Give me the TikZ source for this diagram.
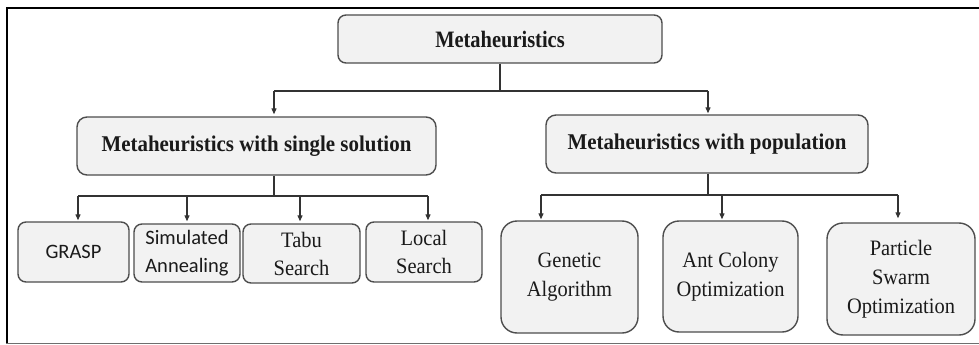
\documentclass[tikz,border=0pt]{standalone}
\usepackage{fontspec}
\usetikzlibrary{arrows.meta}
\setmainfont{Liberation Serif}
\newfontfamily\topf[FakeStretch=0.87]{Liberation Serif}
\newfontfamily\serf[FakeStretch=0.93]{Liberation Serif}
\newfontfamily\sanf{Carlito}
\definecolor{boxfill}{HTML}{F2F2F2}
\definecolor{boxline}{HTML}{4D4D4D}
\definecolor{conn}{HTML}{333333}
\definecolor{txt}{HTML}{1A1A1A}
\definecolor{framegray}{HTML}{6E6E6E}
\tikzset{
  basebox/.style={draw=boxline, fill=boxfill, line width=1.4pt, inner sep=0pt, align=center, text=txt},
  topbox/.style={basebox, rounded corners=8pt, font=\topf\bfseries\fontsize{23.5}{28}\selectfont},
  midbox/.style={basebox, rounded corners=10pt, font=\serf\bfseries\fontsize{22.5}{28}\selectfont},
  leafsans/.style={basebox, rounded corners=8pt, font=\sanf\fontsize{20.5}{28}\selectfont},
  leafserif/.style={basebox, rounded corners=8pt, font=\serf\fontsize{22}{28}\selectfont},
  popbox/.style={basebox, rounded corners=16pt, font=\serf\fontsize{22}{29}\selectfont},
  link/.style={draw=conn, line width=1.2pt},
  arrowlink/.style={link, -{Triangle[length=6pt,width=5pt]}}
}
\begin{document}
\begin{tikzpicture}[x=1pt,y=-1pt]
\useasboundingbox (0,0) rectangle (979,345);
% frame
\draw[line width=2.2pt, black] (7,343) -- (7,8) -- (979,8);
\draw[line width=1.5pt, framegray] (6,343.5) -- (979,343.5);

% nodes
\node[topbox, minimum width=324pt, minimum height=48pt] (top) at (500,39) {Metaheuristics};
\node[midbox, minimum width=359pt, minimum height=58pt] (midL) at (256.5,146) {Metaheuristics with single solution};
\node[midbox, minimum width=322pt, minimum height=58pt] (midR) at (707,144) {Metaheuristics with population};

\node[leafsans, minimum width=111pt, minimum height=60pt] (grasp) at (73.5,252) {GRASP};
\node[leafsans, minimum width=106pt, minimum height=58pt] (sa) at (187,253) {Simulated\\Annealing};
\node[leafserif, minimum width=117pt, minimum height=59pt] (tabu) at (301.5,253.5) {Tabu\\Search};
\node[leafserif, minimum width=116pt, minimum height=60pt] (local) at (424,252) {Local\\Search};

\node[popbox, minimum width=137pt, minimum height=112pt] (gen) at (569.5,277) {Genetic\\Algorithm};
\node[popbox, minimum width=135pt, minimum height=111pt] (aco) at (730.5,276.5) {Ant Colony\\Optimization};
\node[popbox, minimum width=148pt, minimum height=112pt] (pso) at (901,279) {Particle\\Swarm\\Optimization};

% bus coordinates
\coordinate (b0) at (500,91);
\coordinate (b0L) at (274,91);
\coordinate (b0R) at (708,91);
\coordinate (b1) at (274,196);
\coordinate (b1a) at (78,196);
\coordinate (b1b) at (187,196);
\coordinate (b1c) at (300,196);
\coordinate (b1d) at (428,196);
\coordinate (b2) at (708,195);
\coordinate (b2a) at (541,195);
\coordinate (b2b) at (722,195);
\coordinate (b2c) at (898,195);

% top level
\draw[link] (top.south) -- (b0);
\draw[link] (b0L) -- (b0R);
\draw[arrowlink, shorten >=2pt] (b0L) -- (b0L |- midL.north);
\draw[arrowlink, shorten >=1pt] (b0R) -- (b0R |- midR.north);

% single solution branch
\draw[link] (b1 |- midL.south) -- (b1);
\draw[link] (b1a) -- (b1d);
\draw[arrowlink, shorten >=1pt] (b1a) -- (b1a |- grasp.north);
\draw[arrowlink, shorten >=2pt] (b1b) -- (b1b |- sa.north);
\draw[arrowlink, shorten >=2pt] (b1c) -- (b1c |- tabu.north);
\draw[arrowlink, shorten >=1pt] (b1d) -- (b1d |- local.north);

% population branch
\draw[link] (b2 |- midR.south) -- (b2);
\draw[link] (b2a) -- (b2c);
\draw[arrowlink, shorten >=1pt] (b2a) -- (b2a |- gen.north);
\draw[arrowlink, shorten >=1pt] (b2b) -- (b2b |- aco.north);
\draw[arrowlink, shorten >=4pt] (b2c) -- (b2c |- pso.north);
\end{tikzpicture}
\end{document}
